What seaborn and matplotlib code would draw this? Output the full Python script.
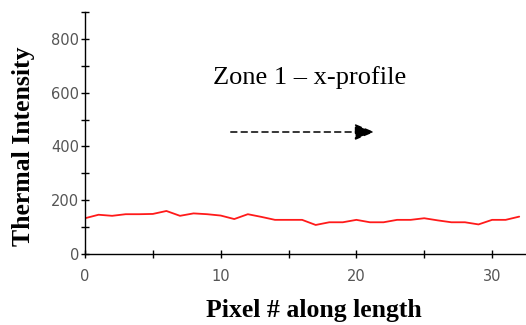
import matplotlib
matplotlib.use("Agg")
import matplotlib.pyplot as plt
import seaborn as sns
import pandas as pd
import numpy as np

pixels = list(range(33))
intensity = [133, 146, 142, 148, 148, 149, 160, 142, 151, 148, 143, 130, 148, 138, 127, 127,
             127, 108, 118, 118, 127, 118, 118, 127, 127, 133, 125, 118, 118, 110, 127, 127, 139]
x_major = [0, 10, 20, 30]
y_major = [0, 200, 400, 600, 800]

sns.set_theme(style="white")
plt.rcParams['font.family'] = ['DejaVu Sans']

df = pd.DataFrame({"pixel": pixels, "intensity": intensity})

fig = plt.figure(figsize=(5.26, 3.25), dpi=100)
ax = fig.add_axes([85/526, 1-254/325, 1-85/526, (254-12)/325])
sns.lineplot(data=df, x="pixel", y="intensity", color="#ff1a1a", linewidth=1.3, ax=ax)
ax.set_xlim(0, 32.5)
ax.set_ylim(0, 900)
ax.set_xticks(x_major)
ax.set_xticks(np.arange(0, 33, 5), minor=True)
ax.set_yticks(y_major)
ax.set_yticks(np.arange(0, 901, 100), minor=True)
for s in ["top", "right"]:
    ax.spines[s].set_visible(False)
for s in ["left", "bottom"]:
    ax.spines[s].set_color("black")
    ax.spines[s].set_linewidth(1.0)
ax.tick_params(which="both", direction="inout", length=6, width=1, color="black",
               labelsize=10.5, labelcolor="#555555", left=True, bottom=True)
ax.tick_params(axis="y", pad=1)
ax.tick_params(axis="x", pad=8)
ax.set_xlabel("")
ax.set_ylabel("")

fig.text(24/526, 1-146/325, "Thermal Intensity", rotation=90, ha="center", va="center",
         family="Liberation Serif", fontweight="bold", fontsize=18.5, color="black")
fig.text(314/526, 1-311/325, "Pixel # along length", ha="center", va="center",
         family="Liberation Serif", fontweight="bold", fontsize=18.5, color="black")
fig.text(310/526, 1-78/325, "Zone 1 \u2013 x-profile", ha="center", va="center",
         family="Liberation Serif", fontsize=19, color="black")
fig.patches.append(matplotlib.patches.FancyArrowPatch(
    (228/526, 1-132/325), (377/526, 1-132/325), transform=fig.transFigure,
    arrowstyle="-|>,head_length=12,head_width=5", linestyle=(0, (4, 2.8)),
    color="black", linewidth=1.1, mutation_scale=1))

fig.savefig("out.png", dpi=100)
